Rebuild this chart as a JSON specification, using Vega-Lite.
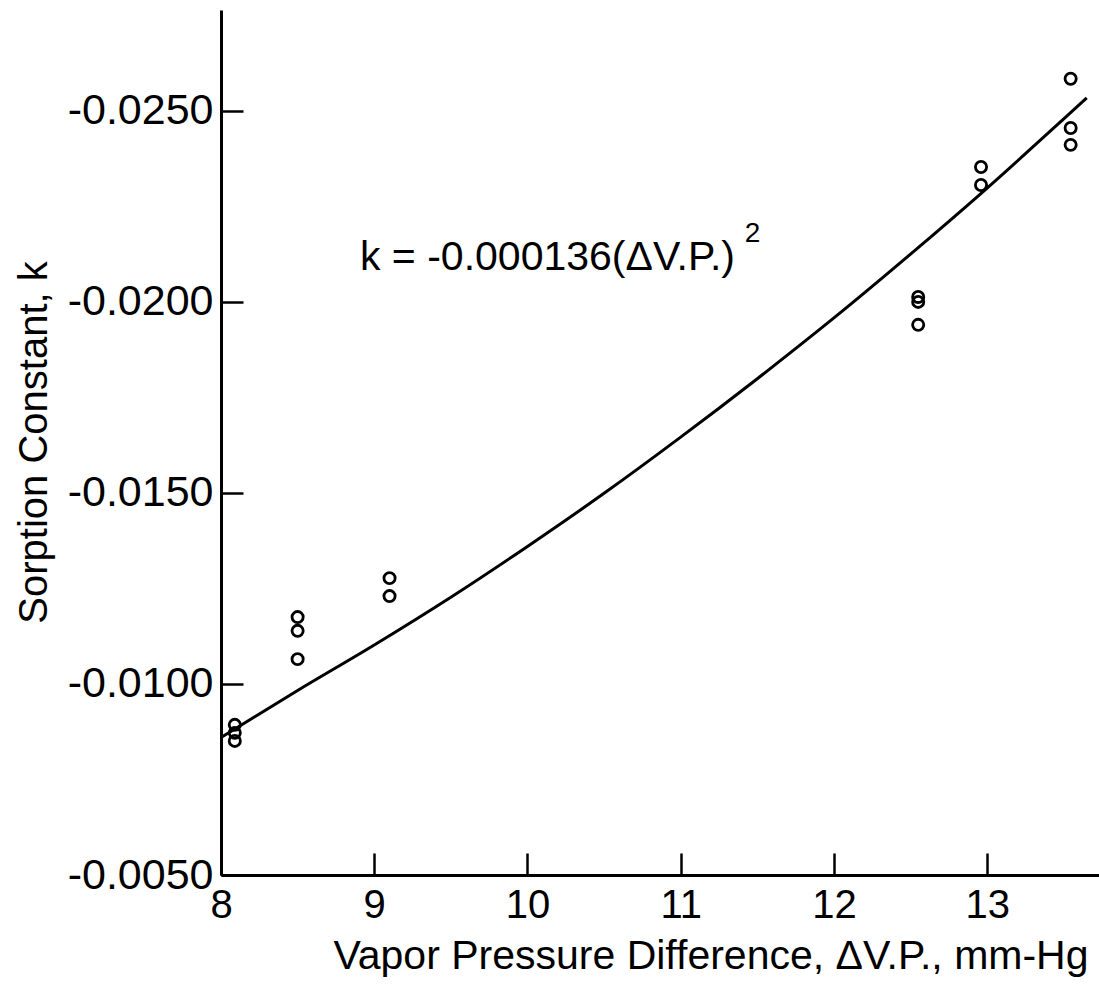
{
  "$schema": "https://vega.github.io/schema/vega-lite/v6.json",
  "autosize": "none",
  "padding": {"left": 221, "top": 10, "right": 0, "bottom": 111},
  "width": 878,
  "height": 865,
  "background": "white",
  "config": {
    "view": {"stroke": null},
    "font": "Liberation Sans",
    "axis": {
      "grid": false,
      "domainColor": "black",
      "domainWidth": 3,
      "tickColor": "black",
      "tickWidth": 2.5,
      "tickSize": -22,
      "labelColor": "black",
      "titleColor": "black",
      "labelFont": "Liberation Sans",
      "titleFont": "Liberation Sans",
      "titleFontWeight": "normal",
      "labelOverlap": false,
      "labelFlush": false
    }
  },
  "layer": [
    {
      "data": {"values": [
        {"dvp": 8.0, "k": -0.0086},
        {"dvp": 8.5, "k": -0.00983},
        {"dvp": 9.0, "k": -0.01102},
        {"dvp": 9.5, "k": -0.01227},
        {"dvp": 10.0, "k": -0.0136},
        {"dvp": 10.5, "k": -0.01499},
        {"dvp": 11.0, "k": -0.01646},
        {"dvp": 11.5, "k": -0.01799},
        {"dvp": 12.0, "k": -0.01958},
        {"dvp": 12.5, "k": -0.02125},
        {"dvp": 13.0, "k": -0.02298},
        {"dvp": 13.5, "k": -0.02479},
        {"dvp": 13.65, "k": -0.02534}
      ]},
      "mark": {"type": "line", "color": "black", "strokeWidth": 3, "interpolate": "monotone"},
      "encoding": {
        "x": {
          "field": "dvp", "type": "quantitative",
          "scale": {"domain": [8, 13.73], "nice": false, "zero": false},
          "axis": {
            "values": [8, 9, 10, 11, 12, 13],
            "format": "d",
            "labelFontSize": 40,
            "labelPadding": 32,
            "title": "Vapor Pressure Difference, ΔV.P., mm-Hg",
            "titleFontSize": 41,
            "titleAlign": "right",
            "titleAnchor": "end",
            "titleX": 867,
            "titleY": 93,
            "titleBaseline": "alphabetic"
          }
        },
        "y": {
          "field": "k", "type": "quantitative",
          "scale": {"domain": [-0.02764, -0.005], "reverse": true, "nice": false, "zero": false},
          "axis": {
            "values": [-0.005, -0.01, -0.015, -0.02, -0.025],
            "format": ".4f",
            "labelExpr": "replace(datum.label, '\u2212', '-')",
            "labelFontSize": 43,
            "labelPadding": 30,
            "title": "Sorption Constant, k",
            "titleFontSize": 40,
            "titleAngle": -90,
            "titleAlign": "center",
            "titleX": -175,
            "titleY": 432,
            "titleBaseline": "alphabetic"
          }
        }
      }
    },
    {
      "data": {"values": [
        {"dvp": 8.09, "k": -0.00893},
        {"dvp": 8.09, "k": -0.00872},
        {"dvp": 8.09, "k": -0.00851},
        {"dvp": 8.5, "k": -0.01175},
        {"dvp": 8.5, "k": -0.01139},
        {"dvp": 8.5, "k": -0.01065},
        {"dvp": 9.1, "k": -0.01277},
        {"dvp": 9.1, "k": -0.0123},
        {"dvp": 12.55, "k": -0.02013},
        {"dvp": 12.55, "k": -0.0200},
        {"dvp": 12.55, "k": -0.0194},
        {"dvp": 12.96, "k": -0.02353},
        {"dvp": 12.96, "k": -0.02306},
        {"dvp": 13.545, "k": -0.02584},
        {"dvp": 13.545, "k": -0.02455},
        {"dvp": 13.545, "k": -0.02411}
      ]},
      "mark": {"type": "point", "shape": "circle", "filled": false, "color": "black", "size": 125, "strokeWidth": 2.8, "opacity": 1},
      "encoding": {
        "x": {"field": "dvp", "type": "quantitative"},
        "y": {"field": "k", "type": "quantitative"}
      }
    },
    {
      "data": {"values": [{"dvp": 8.907, "k": -0.02084, "label": "k = -0.000136(ΔV.P.)"}]},
      "mark": {"type": "text", "align": "left", "baseline": "alphabetic", "fontSize": 41, "color": "black", "font": "Liberation Sans"},
      "encoding": {
        "x": {"field": "dvp", "type": "quantitative"},
        "y": {"field": "k", "type": "quantitative"},
        "text": {"field": "label"}
      }
    },
    {
      "data": {"values": [{"dvp": 11.418, "k": -0.02157, "label": "2"}]},
      "mark": {"type": "text", "align": "left", "baseline": "alphabetic", "fontSize": 28, "color": "black", "font": "Liberation Sans"},
      "encoding": {
        "x": {"field": "dvp", "type": "quantitative"},
        "y": {"field": "k", "type": "quantitative"},
        "text": {"field": "label"}
      }
    }
  ]
}
